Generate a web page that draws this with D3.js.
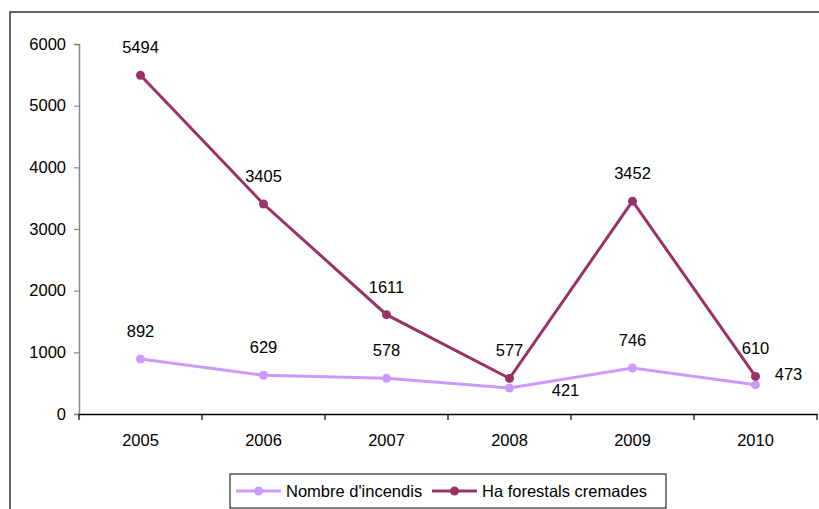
<!DOCTYPE html>
<html><head><meta charset="utf-8">
<script src="https://cdn.jsdelivr.net/npm/d3@7"></script>
<style>body{margin:0;background:#fff}svg{display:block;font-family:"Liberation Sans",Arial,sans-serif}</style>
</head><body>
<svg id="c" width="819" height="509"></svg>
<script>
const years = ["2005","2006","2007","2008","2009","2010"];
const incendis = [892, 629, 578, 421, 746, 473];
const hectarees = [5494, 3405, 1611, 577, 3452, 610];
const yTicks = [0, 1000, 2000, 3000, 4000, 5000, 6000];
const seriesNames = ["Nombre d'incendis", "Ha forestals cremades"];
const colors = ["#CC99FF", "#993366"];
// label placement per point: "above" or "right"
const incendisLabelPos = ["above","above","above","right-low","above","right"];
const hectareesLabelPos = ["above","above","above","above","above","above"];

const FS = "16.5px";
const svg = d3.select("#c");
// outer frame
svg.append("rect").attr("x",10).attr("y",12).attr("width",840).attr("height",540)
  .attr("fill","none").attr("stroke","#333").attr("stroke-width",1.5);

const x = d3.scaleBand().domain(years).range([79, 817]);
const y = d3.scaleLinear().domain([0, 6000]).range([414, 44]);
const cx = d => x(d) + x.bandwidth()/2;

// y axis
const ya = svg.append("g").attr("transform","translate(79,0)")
  .call(d3.axisLeft(y).tickValues(yTicks).tickSize(5).tickPadding(8).tickFormat(d3.format("d")));
ya.select(".domain").attr("stroke","#888").attr("stroke-width",1.5);
ya.selectAll(".tick line").attr("stroke","#888").attr("stroke-width",1.2);
ya.selectAll("text").attr("font-size",FS).attr("fill","#000").attr("font-family","Liberation Sans, Arial, sans-serif");

// x axis
const xa = svg.append("g").attr("transform","translate(0,414)")
  .call(d3.axisBottom(x).tickSize(0).tickPadding(20));
xa.select(".domain").attr("stroke","#000").attr("stroke-width",1.5);
xa.selectAll("text").attr("font-size",FS).attr("fill","#000").attr("font-family","Liberation Sans, Arial, sans-serif");
// x ticks on band boundaries
svg.append("g").selectAll("line").data(years.concat(["end"])).join("line")
  .attr("x1",(d,i)=> i<years.length ? x(d) : x.range()[1])
  .attr("x2",(d,i)=> i<years.length ? x(d) : x.range()[1])
  .attr("y1",414).attr("y2",420).attr("stroke","#000").attr("stroke-width",1.2);

function drawSeries(vals, color, labelPos){
  const line = d3.line().x((d,i)=>cx(years[i])).y(d=>y(d));
  svg.append("path").datum(vals).attr("d",line).attr("fill","none")
    .attr("stroke",color).attr("stroke-width",3);
  svg.append("g").selectAll("circle").data(vals).join("circle")
    .attr("cx",(d,i)=>cx(years[i])).attr("cy",d=>y(d)).attr("r",4.5).attr("fill",color);
  svg.append("g").selectAll("text").data(vals).join("text")
    .attr("x",(d,i)=>{
      const p = labelPos[i];
      return cx(years[i]) + (p==="right"?33:p==="right-low"?56:0);
    })
    .attr("y",(d,i)=>{
      const p = labelPos[i];
      return y(d) + (p==="right"?-11:p==="right-low"?2:-28);
    })
    .attr("text-anchor","middle").attr("dominant-baseline","central")
    .attr("font-size",FS).attr("fill","#000").text(d=>d);
}
drawSeries(incendis, colors[0], incendisLabelPos);
drawSeries(hectarees, colors[1], hectareesLabelPos);

// legend
const lg = svg.append("g");
lg.append("rect").attr("x",230).attr("y",474).attr("width",436).attr("height",34)
  .attr("fill","#fff").attr("stroke","#000").attr("stroke-width",1);
const legendItems = [{x:236, tx:286}, {x:432, tx:482}];
seriesNames.forEach((n,i)=>{
  const it = legendItems[i];
  lg.append("line").attr("x1",it.x).attr("x2",it.x+45).attr("y1",491).attr("y2",491)
    .attr("stroke",colors[i]).attr("stroke-width",3);
  lg.append("circle").attr("cx",it.x+22.5).attr("cy",491).attr("r",4.5).attr("fill",colors[i]);
  lg.append("text").attr("x",it.tx).attr("y",491).attr("dominant-baseline","central")
    .attr("font-size",FS).attr("fill","#000").text(n);
});
</script>
</body></html>
